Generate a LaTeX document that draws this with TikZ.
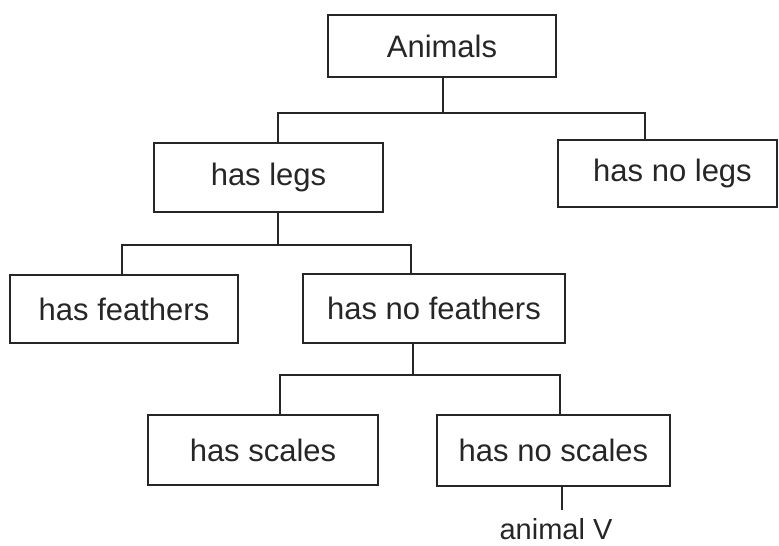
\documentclass[tikz,border=0pt]{standalone}
\usepackage{fontspec}
\setmainfont{Liberation Sans}
\begin{document}
\begin{tikzpicture}[x=1pt,y=-1pt,
  box/.style={draw=black!85, line width=2pt, inner sep=0pt, font=\fontsize{31}{36}\selectfont, text=black!85},
  conn/.style={draw=black!85, line width=1.8pt},
  lbl/.style={inner sep=0pt, font=\fontsize{29}{34}\selectfont, text=black!85}]
\useasboundingbox (0,0) rectangle (779,546);
\node[box, minimum width=228pt, minimum height=62pt] (animals) at (442,46) {Animals};
\node[box, minimum width=229pt, minimum height=69pt] (legs) at (268.5,177.5) {has legs};
\node[box, minimum width=219pt, minimum height=67pt] (nolegs) at (667.5,173.5) {\hspace*{10pt}has no legs};
\node[box, minimum width=228pt, minimum height=68pt] (feath) at (124,309) {has feathers};
\node[box, minimum width=262pt, minimum height=69pt] (nofeath) at (434,308.5) {has no feathers};
\node[box, minimum width=230pt, minimum height=70pt] (scales) at (263,450) {has scales};
\node[box, minimum width=233pt, minimum height=71pt] (noscales) at (553.5,450.5) {has no scales};
\node[lbl, anchor=base, text depth=0pt] (animalv) at (556,539) {animal V};
% junction coordinates
\coordinate (j1) at (443,113);
\coordinate (j1l) at (278,113);
\coordinate (j1r) at (645,113);
\coordinate (j2) at (278,245);
\coordinate (j2l) at (122,245);
\coordinate (j2r) at (411,245);
\coordinate (j3) at (413,375);
\coordinate (j3l) at (280,375);
\coordinate (j3r) at (560,375);
\coordinate (j4) at (562,510);
% connectors
\draw[conn] (j1 |- animals.south) -- (j1);
\draw[conn] (legs.north -| j1l) -- (j1l) -- (j1r) -- (nolegs.north -| j1r);
\draw[conn] (j2 |- legs.south) -- (j2);
\draw[conn] (feath.north -| j2l) -- (j2l) -- (j2r) -- (nofeath.north -| j2r);
\draw[conn] (j3 |- nofeath.south) -- (j3);
\draw[conn] (scales.north -| j3l) -- (j3l) -- (j3r) -- (noscales.north -| j3r);
\draw[conn] (j4 |- noscales.south) -- (j4);
\end{tikzpicture}
\end{document}
